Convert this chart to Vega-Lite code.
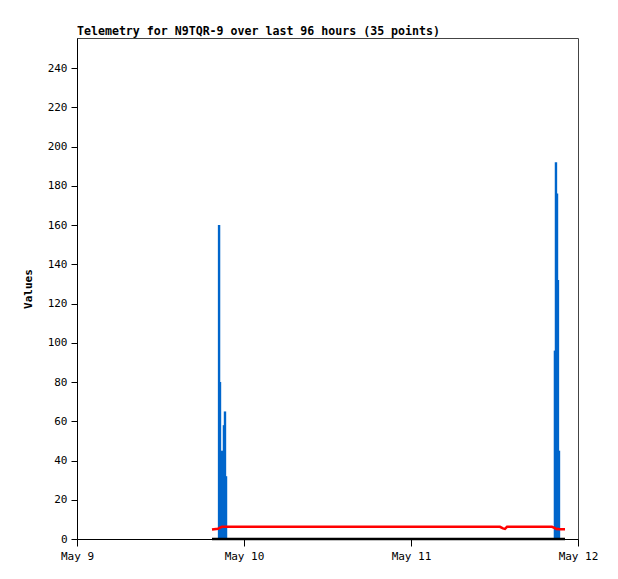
{
  "$schema": "https://vega.github.io/schema/vega-lite/v6.json",
  "width": 501,
  "height": 501,
  "autosize": "none",
  "padding": {"left": 77, "top": 38, "right": 40, "bottom": 40},
  "background": "white",
  "config": {
    "view": {"stroke": "#444", "strokeWidth": 1},
    "font": "DejaVu Sans Mono",
    "axis": {"grid": false, "domainColor": "#000", "tickColor": "#000", "labelColor": "#000", "titleColor": "#000", "labelFont": "DejaVu Sans Mono", "titleFont": "DejaVu Sans Mono", "labelFontSize": 11, "titleFontSize": 11}
  },
  "title": {"text": "Telemetry for N9TQR-9 over last 96 hours (35 points)", "anchor": "start", "frame": "group", "font": "DejaVu Sans Mono", "fontSize": 11.6, "fontWeight": "bold", "color": "#000", "offset": 0},
  "data": {"values": [
    {"t": "2025-05-09T19:24:00", "blue": 0, "red": 4.8, "black": 0},
    {"t": "2025-05-09T20:16:00", "blue": 0, "red": 5.2, "black": 0},
    {"t": "2025-05-09T20:25:00", "blue": 160, "red": 5.6, "black": 0},
    {"t": "2025-05-09T20:33:00", "blue": 80, "red": 5.8, "black": 0},
    {"t": "2025-05-09T20:41:00", "blue": 20, "red": 6.0, "black": 0},
    {"t": "2025-05-09T20:50:00", "blue": 45, "red": 6.2, "black": 0},
    {"t": "2025-05-09T20:59:00", "blue": 32, "red": 6.2, "black": 0},
    {"t": "2025-05-09T21:07:00", "blue": 58, "red": 6.2, "black": 0},
    {"t": "2025-05-09T21:16:00", "blue": 65, "red": 6.2, "black": 0},
    {"t": "2025-05-09T21:25:00", "blue": 32, "red": 6.2, "black": 0},
    {"t": "2025-05-10T02:00:00", "blue": 0, "red": 6.2, "black": 0},
    {"t": "2025-05-10T05:00:00", "blue": 0, "red": 6.2, "black": 0},
    {"t": "2025-05-10T08:00:00", "blue": 0, "red": 6.2, "black": 0},
    {"t": "2025-05-10T11:00:00", "blue": 0, "red": 6.2, "black": 0},
    {"t": "2025-05-10T14:00:00", "blue": 0, "red": 6.2, "black": 0},
    {"t": "2025-05-10T17:00:00", "blue": 0, "red": 6.2, "black": 0},
    {"t": "2025-05-10T20:00:00", "blue": 0, "red": 6.2, "black": 0},
    {"t": "2025-05-10T23:00:00", "blue": 0, "red": 6.2, "black": 0},
    {"t": "2025-05-11T02:00:00", "blue": 0, "red": 6.2, "black": 0},
    {"t": "2025-05-11T05:00:00", "blue": 0, "red": 6.2, "black": 0},
    {"t": "2025-05-11T08:00:00", "blue": 0, "red": 6.2, "black": 0},
    {"t": "2025-05-11T11:00:00", "blue": 0, "red": 6.2, "black": 0},
    {"t": "2025-05-11T12:47:00", "blue": 0, "red": 6.2, "black": 0},
    {"t": "2025-05-11T13:13:00", "blue": 0, "red": 5.4, "black": 0},
    {"t": "2025-05-11T13:30:00", "blue": 0, "red": 5.2, "black": 0},
    {"t": "2025-05-11T13:48:00", "blue": 0, "red": 6.2, "black": 0},
    {"t": "2025-05-11T16:00:00", "blue": 0, "red": 6.2, "black": 0},
    {"t": "2025-05-11T20:15:00", "blue": 0, "red": 6.2, "black": 0},
    {"t": "2025-05-11T20:41:00", "blue": 96, "red": 5.6, "black": 0},
    {"t": "2025-05-11T20:50:00", "blue": 192, "red": 5.2, "black": 0},
    {"t": "2025-05-11T20:59:00", "blue": 176, "red": 5.0, "black": 0},
    {"t": "2025-05-11T21:07:00", "blue": 132, "red": 5.2, "black": 0},
    {"t": "2025-05-11T21:16:00", "blue": 45, "red": 5.0, "black": 0},
    {"t": "2025-05-11T21:40:00", "blue": 0, "red": 5.0, "black": 0},
    {"t": "2025-05-11T22:08:00", "blue": 0, "red": 5.0, "black": 0}
  ]},
  "encoding": {
    "x": {"field": "t", "type": "temporal",
      "scale": {"domain": [{"year": 2025, "month": 5, "date": 9}, {"year": 2025, "month": 5, "date": 12}]},
      "axis": {"title": null, "format": "%b %-d", "values": [{"year": 2025, "month": 5, "date": 9}, {"year": 2025, "month": 5, "date": 10}, {"year": 2025, "month": 5, "date": 11}, {"year": 2025, "month": 5, "date": 12}], "tickSize": 7, "labelPadding": 4, "labelFlush": false}}
  },
  "layer": [
    {
      "mark": {"type": "rule", "color": "#0066cc", "strokeWidth": 2.4},
      "encoding": {
        "y": {"field": "blue", "type": "quantitative",
          "scale": {"domain": [0, 255.3], "nice": false},
          "axis": {"title": "Values", "titleFontWeight": "bold", "values": [0, 20, 40, 60, 80, 100, 120, 140, 160, 180, 200, 220, 240], "tickSize": 6, "labelPadding": 4, "titlePadding": 14}},
        "y2": {"datum": 0}
      }
    },
    {
      "mark": {"type": "line", "color": "#ff0000", "strokeWidth": 2.5},
      "encoding": {"y": {"field": "red", "type": "quantitative"}}
    },
    {
      "mark": {"type": "line", "color": "#000000", "strokeWidth": 2.5},
      "encoding": {"y": {"field": "black", "type": "quantitative"}}
    }
  ]
}
